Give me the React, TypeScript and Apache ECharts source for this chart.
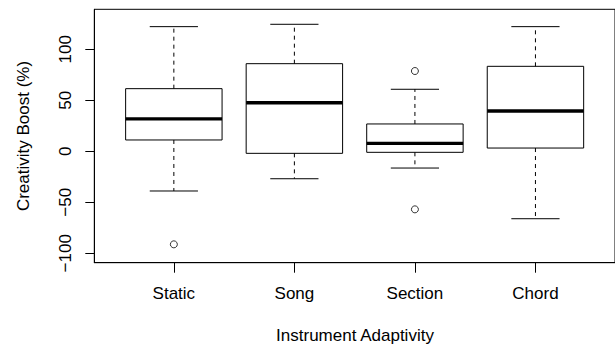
import React, { useEffect, useRef } from "react";
import * as echarts from "echarts";

const categories = ["Static", "Song", "Section", "Chord"];
// [lower whisker, Q1, median, Q3, upper whisker]
const staticStats = [-38.9, 11.1, 31.7, 61.4, 122.2];
const songStats = [-26.9, -2.0, 47.6, 85.9, 124.5];
const sectionStats = [-16.4, -1.0, 7.8, 26.8, 60.8];
const chordStats = [-66.1, 3.2, 39.5, 83.3, 122.2];
const outlierCategory = ["Static", "Section", "Section"];
const outlierValues = [-91.2, 78.7, -56.9];
const yTicks = [-100, -50, 0, 50, 100];
const xTitle = "Instrument Adaptivity";
const yTitle = "Creativity Boost (%)";

const FONT = "'Liberation Sans', Arial, Helvetica, sans-serif";

export default function App() {
  const ref = useRef<HTMLDivElement>(null);
  useEffect(() => {
    if (!ref.current) return;
    const chart = echarts.init(ref.current, null, { renderer: "svg" });
    const stats = [staticStats, songStats, sectionStats, chordStats];
    const boxData = stats.map((s, i) => [i + 1, ...s]);
    const outData = outlierValues.map((v, i) => [categories.indexOf(outlierCategory[i]) + 1, v]);
    const catPos = categories.map((_, i) => i + 1);

    const renderItem = (params: any, api: any) => {
      const x = api.value(0);
      const lo = api.coord([x, api.value(1)]);
      const q1 = api.coord([x, api.value(2)]);
      const med = api.coord([x, api.value(3)]);
      const q3 = api.coord([x, api.value(4)]);
      const hi = api.coord([x, api.value(5)]);
      const bw = api.size([0.8, 0])[0];
      const cw = api.size([0.4, 0])[0];
      const cx = lo[0];
      const lineStyle = { stroke: "#000", lineWidth: 1, fill: null };
      const dashStyle = { stroke: "#000", lineWidth: 1, lineDash: [4, 4], fill: null };
      return {
        type: "group",
        children: [
          { type: "line", shape: { x1: cx, y1: q3[1], x2: cx, y2: hi[1] }, style: dashStyle },
          { type: "line", shape: { x1: cx, y1: q1[1], x2: cx, y2: lo[1] }, style: dashStyle },
          { type: "line", shape: { x1: cx - cw / 2, y1: hi[1], x2: cx + cw / 2, y2: hi[1] }, style: lineStyle },
          { type: "line", shape: { x1: cx - cw / 2, y1: lo[1], x2: cx + cw / 2, y2: lo[1] }, style: lineStyle },
          {
            type: "rect",
            shape: { x: cx - bw / 2, y: q3[1], width: bw, height: q1[1] - q3[1] },
            style: { stroke: "#000", lineWidth: 1, fill: "none" },
          },
          {
            type: "line",
            shape: { x1: cx - bw / 2, y1: med[1], x2: cx + bw / 2, y2: med[1] },
            style: { stroke: "#000", lineWidth: 3.3 },
          },
        ],
      };
    };

    chart.setOption({
      animation: false,
      backgroundColor: "#fff",
      grid: {
        left: 94.3,
        top: 9.3,
        width: 521.6,
        height: 253.4,
        show: true,
        borderColor: "#000",
        borderWidth: 1,
        backgroundColor: "transparent",
      },
      xAxis: {
        type: "value",
        min: 0.34,
        max: 4.66,
        splitLine: { show: false },
        axisLine: { show: true, onZero: false, lineStyle: { color: "#000", width: 1 } },
        axisTick: { show: true, customValues: catPos, length: 10, lineStyle: { color: "#000" } },
        axisLabel: {
          customValues: catPos,
          formatter: (v: number) => categories[Math.round(v) - 1] ?? "",
          fontSize: 17,
          fontFamily: FONT,
          color: "#000",
          margin: 22,
        },
      },
      yAxis: {
        type: "value",
        min: -109.2,
        max: 139.2,
        splitLine: { show: false },
        axisLine: { show: true, onZero: false, lineStyle: { color: "#000", width: 1 } },
        axisTick: { show: true, customValues: yTicks, length: 9, lineStyle: { color: "#000" } },
        axisLabel: {
          customValues: yTicks,
          rotate: 90,
          formatter: (v: number) => (v < 0 ? "\u2212" + Math.abs(v) : String(v)),
          fontSize: 17,
          fontFamily: FONT,
          color: "#000",
          margin: 20,
        },
      },
      graphic: [
        {
          type: "text",
          x: 23,
          y: 136,
          rotation: Math.PI / 2,
          style: {
            text: yTitle,
            fontSize: 17,
            fontFamily: FONT,
            fill: "#000",
            align: "center",
            verticalAlign: "middle",
          },
        },
        {
          type: "text",
          x: 355,
          y: 335,
          style: {
            text: xTitle,
            fontSize: 17,
            fontFamily: FONT,
            fill: "#000",
            align: "center",
            verticalAlign: "middle",
          },
        },
      ],
      series: [
        {
          type: "custom",
          renderItem,
          data: boxData,
          encode: { x: 0, y: [1, 2, 3, 4, 5] },
          clip: false,
          z: 3,
        },
        {
          type: "scatter",
          data: outData,
          symbol: "circle",
          symbolSize: 7,
          itemStyle: { color: "transparent", borderColor: "#000", borderWidth: 1 },
          z: 4,
        },
      ],
    });
    return () => chart.dispose();
  }, []);
  return (
    <div
      ref={ref}
      style={{ position: "fixed", left: 0, top: 0, width: 615, height: 346 }}
    />
  );
}
